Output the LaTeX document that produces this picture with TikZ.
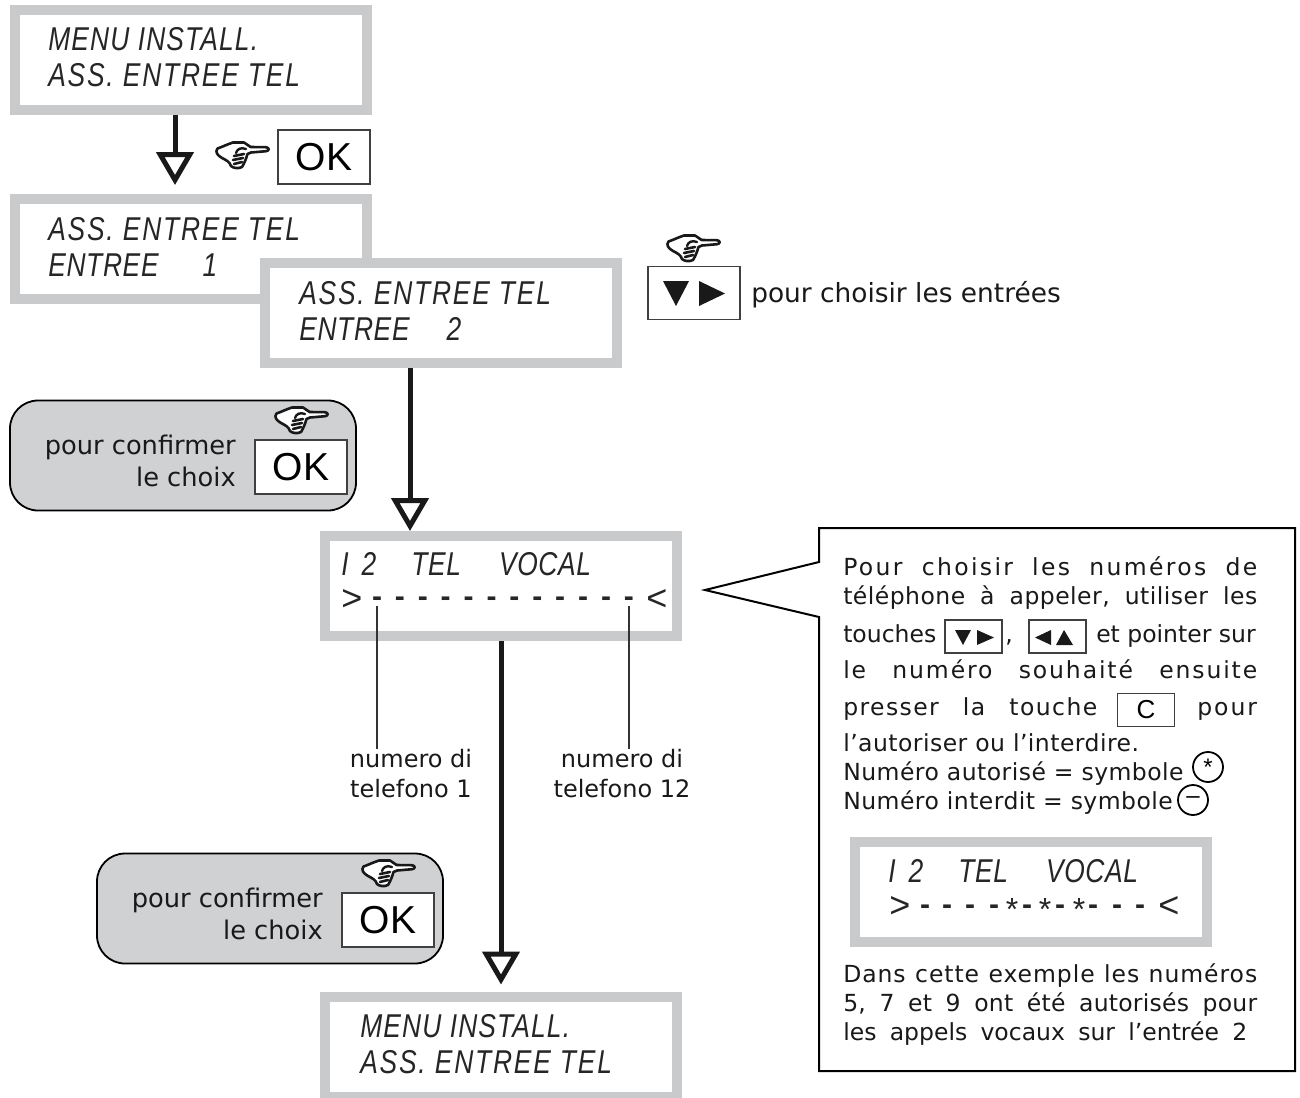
\documentclass[tikz,border=0pt]{standalone}
\usepackage{fontspec}
\setmainfont{DejaVu Sans}
\newfontfamily\okfont{Liberation Sans}
\newfontfamily\lcdfont[LetterSpace=5.4,FakeStretch=0.8]{Liberation Sans Italic}
\usetikzlibrary{arrows.meta}
\definecolor{panelgray}{HTML}{C8CACC}
\definecolor{bubblegray}{HTML}{D0D1D3}
\newlength{\px}\setlength{\px}{0.75pt}
\newcommand{\lsp}[1]{\addfontfeature{LetterSpace=#1}}
\tikzset{
  panel/.style={draw=panelgray,line width=10\px,fill=white,minimum width=352\px,minimum height=100\px,inner sep=0,outer sep=5\px},
  lcd/.style={font=\fontsize{33\px}{36\px}\selectfont\lcdfont,align=left,anchor=west,inner sep=0,text=black!85},
  lcdsym/.style={font=\fontsize{36\px}{36\px}\selectfont\okfont,anchor=west,inner sep=0,text=black!85},
  lcddash/.style={font=\fontsize{30\px}{30\px}\selectfont\okfont\bfseries,inner sep=0,text=black!85},
  lcdstar/.style={font=\fontsize{32\px}{32\px}\selectfont\okfont,inner sep=0,text=black!85},
  okkey/.style={draw=black!75,line width=1.2\px,fill=white,minimum width=92\px,minimum height=54\px,inner sep=0,font=\fontsize{39\px}{39\px}\selectfont\okfont},
  smallkey/.style={draw=black!75,line width=1.2\px,fill=white,minimum width=57\px,minimum height=33\px,inner sep=0,font=\fontsize{26\px}{26\px}\selectfont\okfont},
  bubble/.style={draw=black,line width=1.8\px,fill=bubblegray,rounded corners=28\px,minimum width=346\px,minimum height=110\px,inner sep=0},
  labeltext/.style={font=\fontsize{24\px}{30\px}\selectfont,align=center,inner sep=0,text=black!90},
  bubbletext/.style={font=\fontsize{25.7\px}{32\px}\selectfont,align=right,inner sep=0,anchor=east,text=black!90},
  noteline/.style={font=\fontsize{23.5\px}{29\px}\selectfont,inner sep=0,anchor=base west,text=black!90},
  flow/.style={line width=5\px,-{Triangle[open,length=24.75pt,width=27.75pt,line width=3.75pt,fill=white]},draw=black!90},
  thinlead/.style={line width=1.2\px,draw=black!80},
  note/.style={draw=black,line width=2\px,fill=white,line join=miter},
  marksym/.style={draw=black,line width=1.8\px,circle,minimum size=30\px,inner sep=0,font=\fontsize{24\px}{24\px}\selectfont\okfont},
  handicon/.pic={
    \draw[line width=2.6\px,fill=white,line join=round,line cap=round,draw=black!90]
      (34.7,4) -- (50,4.2) .. controls (53.5,4.5) and (53.5,8) .. (50,8.2) -- (35,9.5) -- (31.5,11)
      .. controls (30,16) and (28.5,20) .. (26,24) .. controls (22,26) and (17,25) .. (15,23)
      .. controls (14,19) and (10,17) .. (6,15) .. controls (1,12) and (-1,9) .. (1.5,5.5)
      .. controls (6,4) and (12,1) .. (17,-0.5) -- (28,-0.5) -- cycle;
    \draw[line width=2.4\px,line cap=round,draw=black!90] (30,6) .. controls (25,4) and (21,6) .. (20,10);
    \draw[line width=2.6\px,line cap=round,draw=black!90] (18,13) -- (28,11) (17,17) -- (27,15) (18,21) -- (26,19);
  },
}
\newcommand{\jline}[1]{\hbox to 414\px{#1}}
\newcommand{\telrow}{I\hspace{13\px}2\hspace{35\px}{\lsp{2}TEL}\hspace{38\px}{\lsp{2}VOCAL}}
\begin{document}
\begin{tikzpicture}[x=1\px,y=-1\px]
\useasboundingbox (0,0) rectangle (1300,1097);
\fill[white] (0,0) rectangle (1300,1097);
\coordinate (a1) at (175,0);
\coordinate (a2) at (410,0);
\coordinate (a3) at (501,0);
% panels
\node[panel] (p1) at (191,60) {};
\node[lcd] (t1) at (48,57) {{\lsp{3.4}MENU INSTALL.}\\ASS. ENTREE TEL};
\node[panel] (p2) at (191,249) {};
\node[lcd] (t2) at (48,247) {ASS. ENTREE TEL\\{\lsp{2}ENTREE}\hspace{44\px}1};
\node[panel] (p3) at (441,313) {};
\node[lcd] (t3) at (299,311) {ASS. ENTREE TEL\\{\lsp{2}ENTREE}\hspace{37\px}2};
\node[panel] (p4) at (501,586) {};
\node[lcd] (t4) at (341,564) {\telrow};
\node[lcdsym] (t4b) at (341,600) {>};
\node[lcdsym] (t4c) at (646,600) {<};
\foreach \i in {0,...,11}{\node[lcddash] at ({377+\i*22.9},602) {-};}
\coordinate (d1) at (377,606);
\coordinate (d12) at (629,606);
\node[panel] (p5) at (501,1046.5) {};
\node[lcd] (t5) at (360,1044) {{\lsp{3.4}MENU INSTALL.}\\ASS. ENTREE TEL};
% OK + hand
\node[okkey] (ok1) at (324,157) {OK};
\pic (h1) at (216,143) {handicon};
% arrow keys
\node[okkey,minimum height=53\px] (ar) at (694,293) {};
\fill[black!90] (663,281) -- (689,281) -- (676,306) -- cycle;
\fill[black!90] (699,281) -- (725,293.5) -- (699,306) -- cycle;
\pic (h2) at (667,236) {handicon};
\node[font=\fontsize{26.4\px}{30\px}\selectfont,anchor=base west,inner sep=0,text=black!90] (choix) at (751,302) {pour choisir les entrées};
% bubbles
\node[bubble] (b1) at (183,455.5) {};
\node[okkey] (ok2) at (301,467) {OK};
\pic (h3) at (275,408) {handicon};
\node[bubbletext] (bt1) at (236,461) {pour confirmer\\le choix};
\node[bubble] (b2) at (270,908.5) {};
\node[okkey] (ok3) at (388,920) {OK};
\pic (h4) at (362,861) {handicon};
\node[bubbletext] (bt2) at (323,914) {pour confirmer\\le choix};
% flow arrows
\draw[flow,shorten >=6.75pt] (p1.south -| a1) -- (p2.north -| a1);
\draw[flow] (p3.south -| a2) -- (p4.north -| a2);
\draw[flow,shorten >=5.25pt] (p4.south -| a3) -- (p5.north -| a3);
% labels
\node[labeltext] (l1) at (411,774) {numero di\\telefono 1};
\node[labeltext] (l12) at (622,774) {numero di\\telefono 12};
\draw[thinlead] (d1) -- (d1 |- l1.north);
\draw[thinlead] (d12) -- (d12 |- l12.north);
% note
\draw[note] (819,528) -- (1295,528) -- (1295,1071) -- (819,1071) -- (819,617) -- (705,590) -- (819,562) -- cycle;
\node[noteline] (n1) at (843,575) {\lsp{10}\jline{Pour\hfill choisir\hfill les\hfill numéros\hfill de}};
\node[noteline] (n2) at (843,604) {\lsp{2}\jline{téléphone\hfill à\hfill appeler,\hfill utiliser\hfill les}};
\node[noteline] (n3) at (843,642) {touches};
\node[smallkey] (k1) at (973.5,636.5) {};
\fill[black!90] (955,630) -- (971,630) -- (963,645) -- cycle;
\fill[black!90] (977,630) -- (994,637.5) -- (977,645) -- cycle;
\node[noteline] (n3b) at (1005,642) {,};
\node[smallkey] (k2) at (1057.5,636.5) {};
\fill[black!90] (1035,637.5) -- (1051,630) -- (1051,645) -- cycle;
\fill[black!90] (1056,645) -- (1064,630) -- (1073,645) -- cycle;
\node[noteline] (n3c) at (1096,642) {et pointer sur};
\node[noteline] (n4) at (843,678) {\lsp{8}\jline{le\hfill numéro\hfill souhaité\hfill ensuite}};
\node[noteline] (n5) at (843,715) {\lsp{6}\hbox to 254\px{presser\hfill la\hfill touche}};
\node[smallkey] (k3) at (1146,710) {C};
\node[noteline] (n5b) at (1197,715) {\lsp{8.5}pour};
\node[noteline] (n6) at (843,751) {\lsp{2}l’autoriser ou l’interdire.};
\node[noteline] (n7) at (843,780) {\lsp{2}Numéro autorisé = symbole};
\node[noteline] (n8) at (843,809) {\lsp{2}Numéro interdit = symbole};
\node[marksym] (c1) at (1208,767) {*};
\node[marksym] (c2) at (1193,800) {\raisebox{-5\px}{–}};
\node[panel] (p6) at (1030.5,891.5) {};
\node[lcd] (t6) at (888,871) {\telrow};
\node[lcdsym] (t6b) at (889,907) {>};
\node[lcdsym] (t6c) at (1158,907) {<};
\foreach \x in {925,947,970,994,1027,1060,1093,1117,1140}{\node[lcddash] at (\x,910) {-};}
\foreach \x in {1012,1045,1079}{\node[lcdstar] at (\x,909) {*};}
\node[noteline] (n9) at (843,982) {\lsp{4}\jline{Dans\hfill cette\hfill exemple\hfill les\hfill numéros}};
\node[noteline] (n10) at (843,1011) {\lsp{1}\jline{5,\hfill 7\hfill et\hfill 9\hfill ont\hfill été\hfill autorisés\hfill pour}};
\node[noteline] (n11) at (843,1040) {\hbox to 404\px{les\hfill appels\hfill vocaux\hfill sur\hfill l’entrée\hfill 2}};
\end{tikzpicture}
\end{document}
